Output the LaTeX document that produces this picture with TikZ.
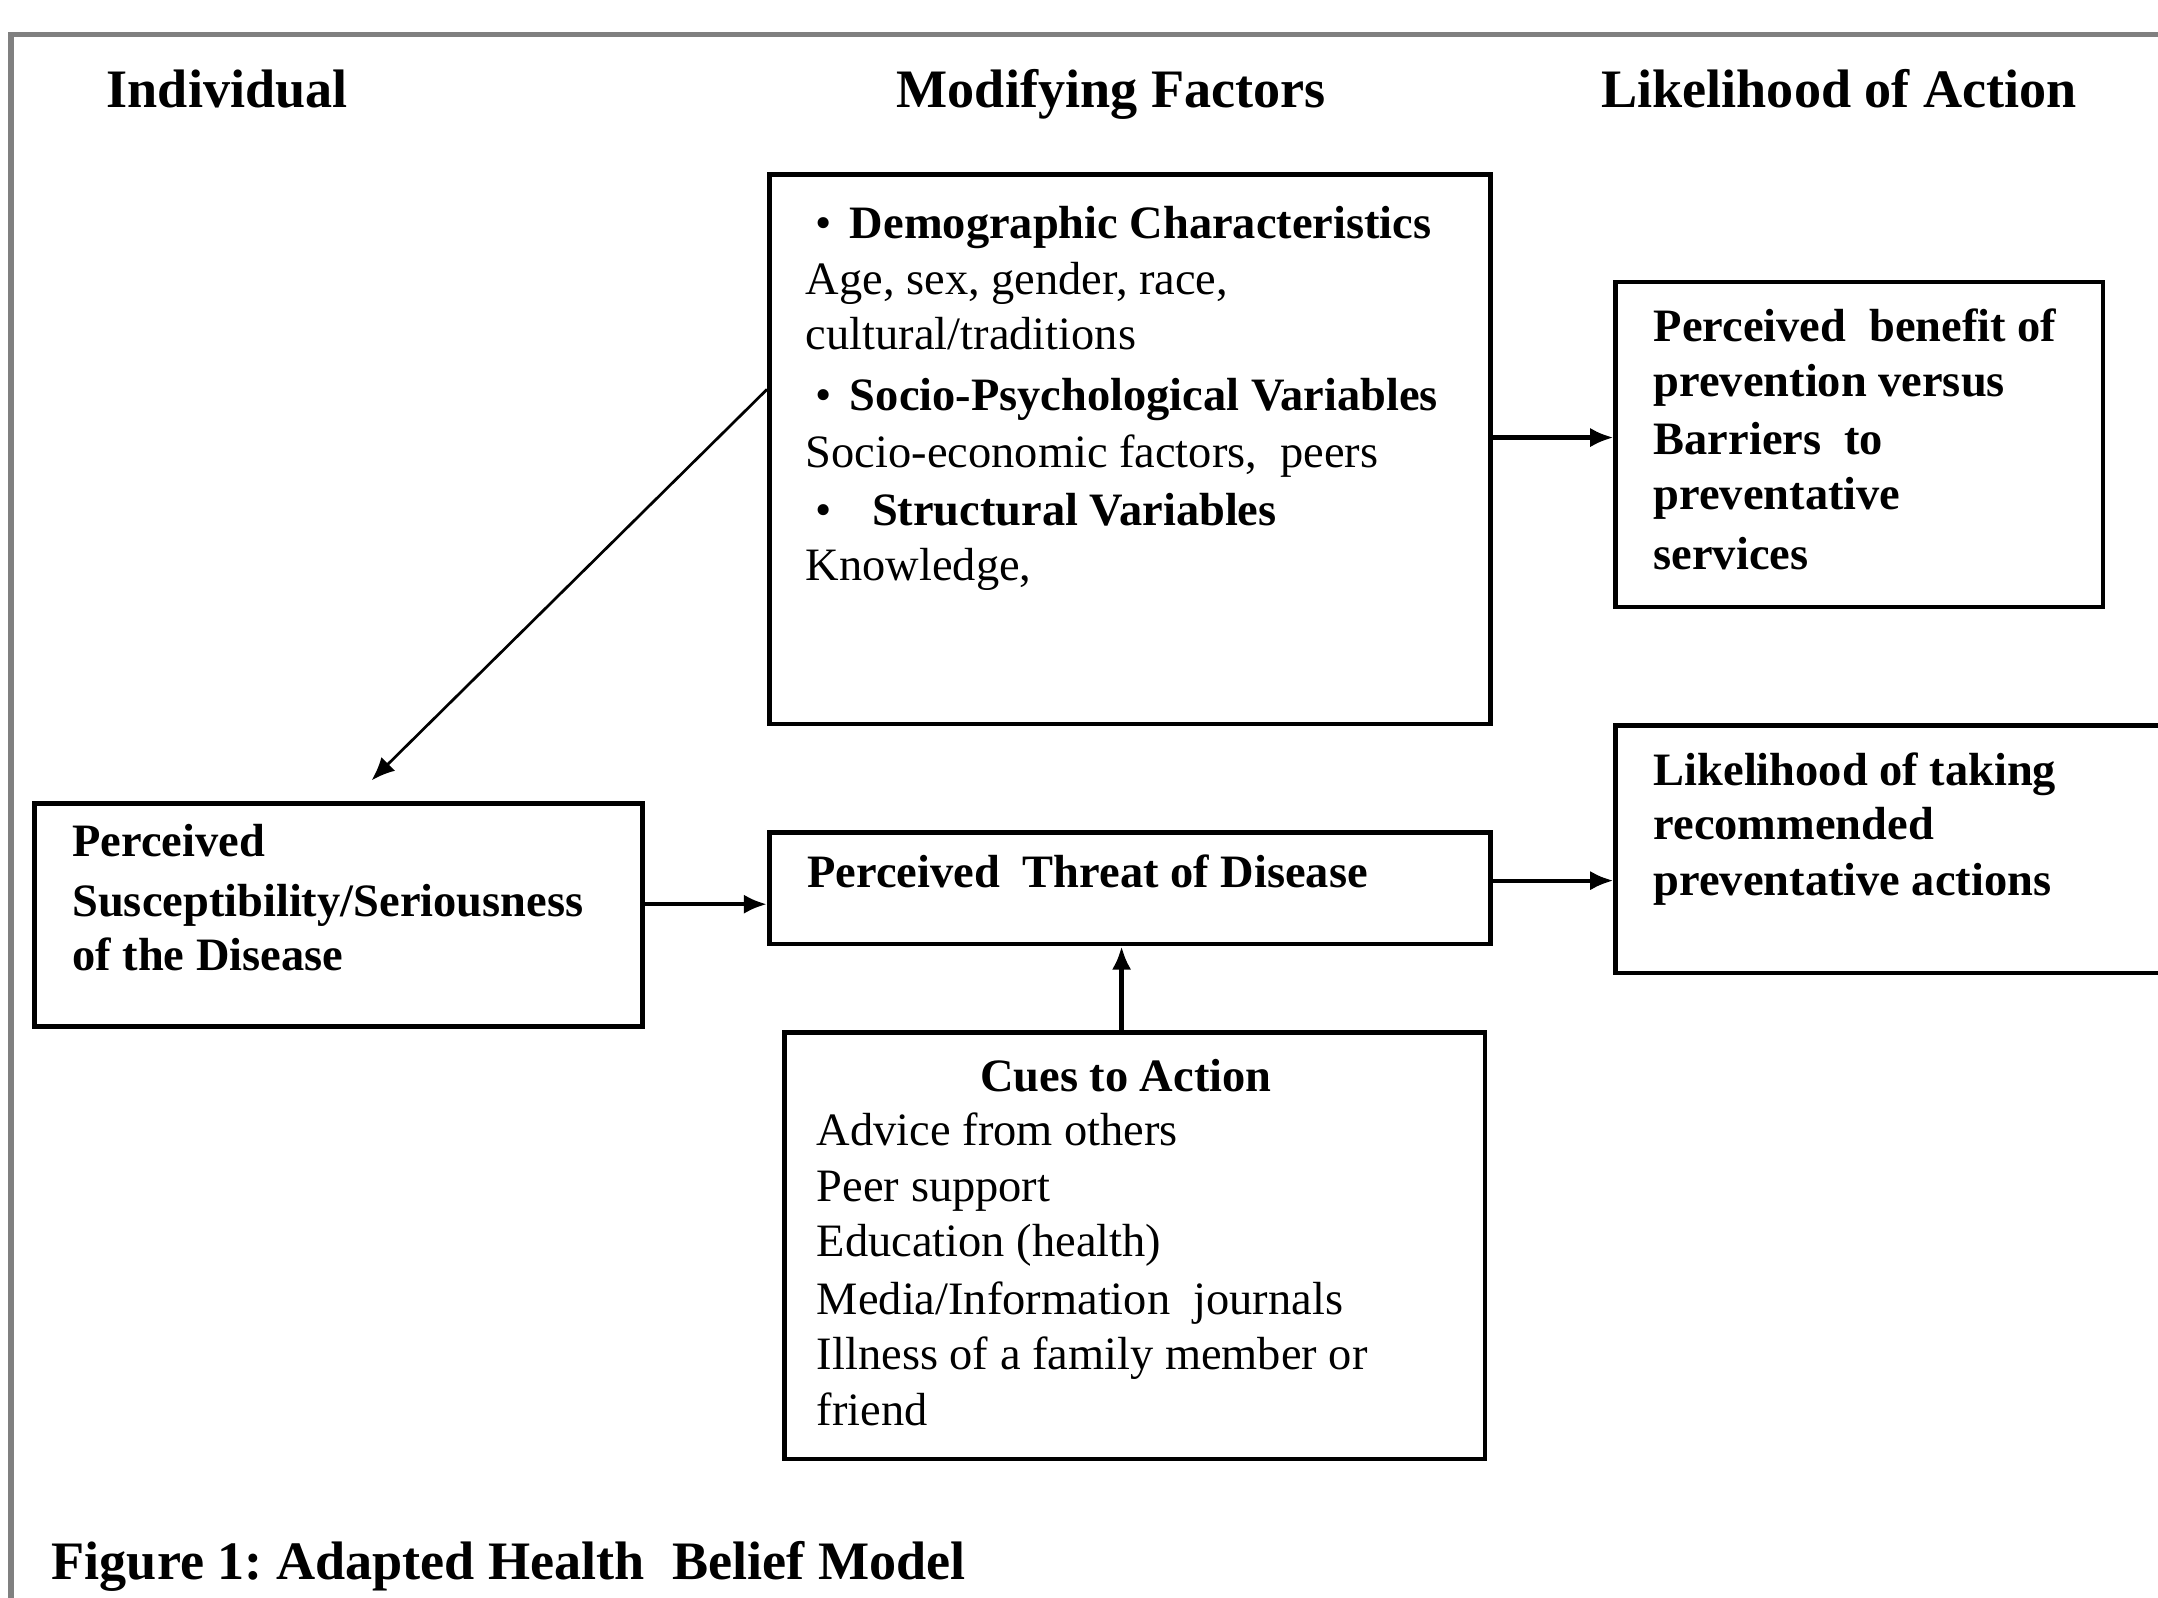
\documentclass[tikz,border=0pt]{standalone}
\usepackage{fontspec}
\setmainfont{Liberation Serif}
\usetikzlibrary{arrows.meta}
\newlength{\pxu}\setlength{\pxu}{0.3557pt}
\frenchspacing
\tikzset{
 box/.style={draw, line width=1.2pt, rectangle, inner sep=0pt},
 ln/.style={anchor=base west, inner sep=0pt, font=\fontsize{12}{14}\selectfont},
 lnb/.style={anchor=base west, inner sep=0pt, font=\fontsize{12}{14}\selectfont\bfseries},
 hdr/.style={anchor=base west, inner sep=0pt, font=\fontsize{14}{16}\selectfont\bfseries},
 arr/.style={line width=1.1pt, -{Latex[length=6pt,width=5pt]}},
 thinarr/.style={line width=0.7pt, -{Latex[length=6pt,width=5pt]}},
 outerframe/.style={draw=black!50, line width=1.3pt}
}
\begin{document}
\begin{tikzpicture}[x=\pxu, y=-\pxu]
\useasboundingbox (0,0) rectangle (1568,1161);
\draw[outerframe] (8,1170) -- (8,25) -- (1580,25);

% headings
\node[hdr] (hInd) at (77,78) {Individual};
\node[hdr] (hMod) at (651,78) {Modifying Factors};
\node[hdr] (hLik) at (1163,78) {Likelihood of Action};

% boxes
\node[box, minimum width=524\pxu, minimum height=399\pxu] (mod) at (821,326.5) {};
\node[box, minimum width=354\pxu, minimum height=236\pxu] (ben) at (1351,323) {};
\node[box, minimum width=416\pxu, minimum height=180\pxu] (like) at (1382,617) {};
\node[box, minimum width=442\pxu, minimum height=162\pxu] (susc) at (246,665) {};
\node[box, minimum width=524\pxu, minimum height=81\pxu] (threat) at (821,645.5) {};
\node[box, minimum width=509\pxu, minimum height=310\pxu] (cues) at (824.5,905) {};

% modifying factors text
\node[ln] (m1) at (592,173) {\makebox[8.9pt][l]{\textbullet}\textbf{Demographic Characteristics}};
\node[ln] (m2) at (585,214) {Age, sex, gender, race,};
\node[ln] (m3) at (585,254) {cultural/traditions};
\node[ln] (m4) at (592,298) {\makebox[8.9pt][l]{\textbullet}\textbf{Socio-Psychological Variables}};
\node[ln] (m5) at (585,340) {Socio-economic factors,\ \ peers};
\node[ln] (m6) at (592,382) {\makebox[14.6pt][l]{\textbullet}\textbf{Structural Variables}};
\node[ln] (m7) at (585,422) {Knowledge,};

% benefit text
\node[lnb] (b1) at (1201,248) {Perceived\ \ benefit of};
\node[lnb] (b2) at (1201,288) {prevention versus};
\node[lnb] (b3) at (1201,330) {Barriers\ \ to};
\node[lnb] (b4) at (1201,370) {preventative};
\node[lnb] (b5) at (1201,414) {services};

% likelihood text
\node[lnb] (l1) at (1201,571) {Likelihood of taking};
\node[lnb] (l2) at (1201,610) {recommended};
\node[lnb] (l3) at (1201,651) {preventative actions};

% susceptibility text
\node[lnb] (s1) at (52,622) {Perceived};
\node[lnb] (s2) at (52,666) {Susceptibility/Seriousness};
\node[lnb] (s3) at (52,705) {of the Disease};

% threat text
\node[lnb] (t1) at (586,645) {Perceived\ \ Threat of Disease};

% cues text
\node[lnb, anchor=base] (c0) at (818,793) {Cues to Action};
\node[ln] (c1) at (593,832) {Advice from others};
\node[ln] (c2) at (593,873) {Peer support};
\node[ln] (c3) at (593,913) {Education (health)};
\node[ln] (c4) at (593,955) {Media/Information\ \ journals};
\node[ln] (c5) at (593,995) {Illness of a family member or};
\node[ln] (c6) at (593,1036) {friend};

% caption
\node[hdr] (cap) at (37,1148) {Figure 1: Adapted Health\ \ Belief Model};

% connectors
\coordinate (dtip) at (270,567);
\draw[thinarr] ([yshift=15.5pt]mod.west) -- (dtip);
\draw[arr] ([yshift=1.8pt]ben.west -| mod.east) -- ([yshift=1.8pt]ben.west);
\draw[arr] ([yshift=2.85pt]susc.east) -- ([yshift=2.85pt]susc.east -| threat.west);
\draw[arr] ([yshift=2pt]threat.east) -- ([yshift=2pt]threat.east -| like.west);
\draw[arr] ([xshift=-3.4pt]cues.north) -- ([xshift=-3.4pt]cues.north |- threat.south);
\end{tikzpicture}
\end{document}
